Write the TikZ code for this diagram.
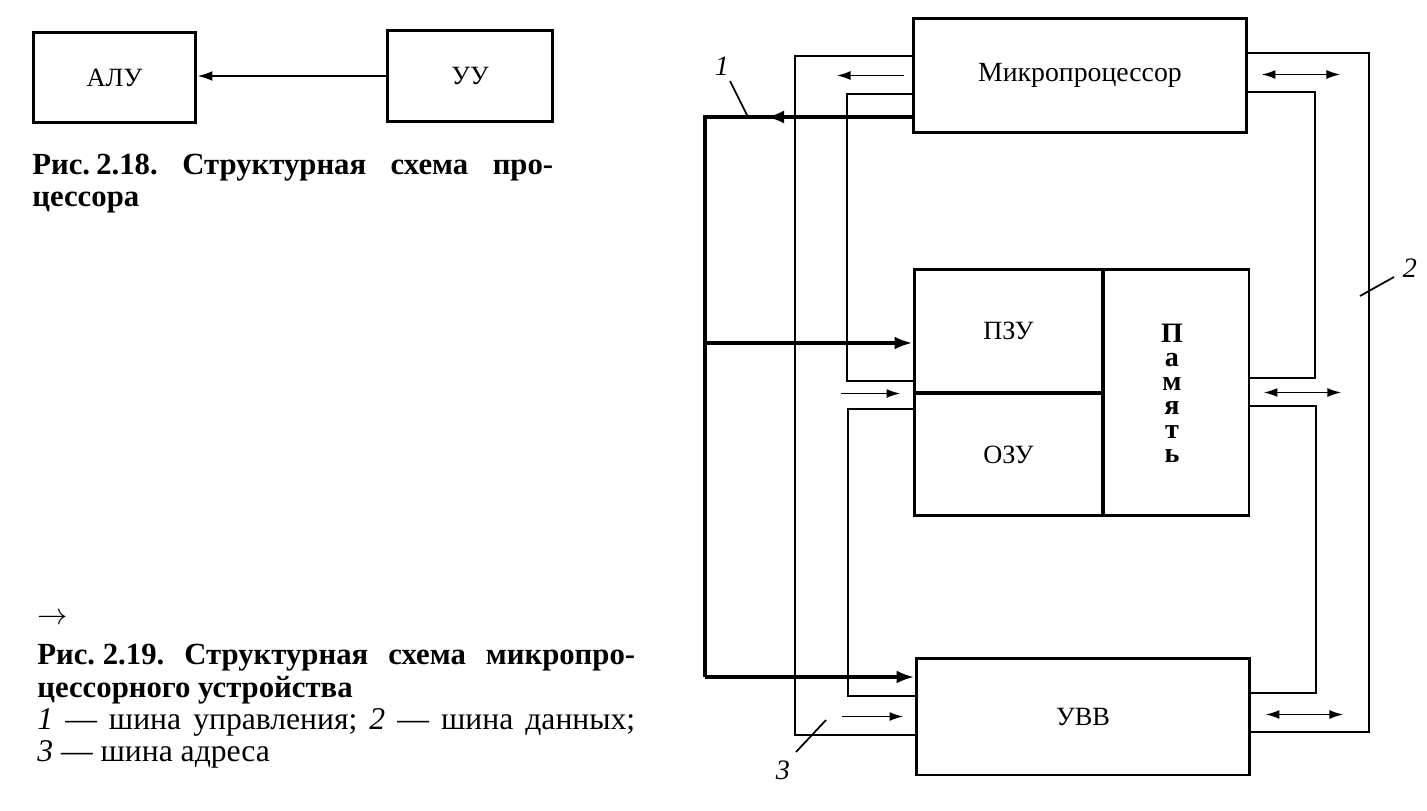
\documentclass[tikz,border=0pt]{standalone}
\usepackage{fontspec}
\setmainfont{Liberation Serif}
\frenchspacing
\usetikzlibrary{arrows.meta,calc}
\tikzset{
  box/.style={draw, line width=1.7pt, inner sep=0pt, align=center, font=\fontsize{15}{18}\selectfont},
  memLetter/.style={inner sep=0pt, anchor=base, font=\fontsize{16}{18}\selectfont\bfseries},
  capText/.style={inner sep=0pt, font=\fontsize{17.5}{21}\selectfont\bfseries},
  legText/.style={inner sep=0pt, font=\fontsize{18}{21}\selectfont},
  numLabel/.style={inner sep=1pt, font=\fontsize{16}{19}\selectfont\itshape},
  arrow/.style={-{Latex[length=0.3cm,width=0.2cm]}, line width=1.1pt},
  busLine/.style={line width=1pt},
  ctrlBus/.style={line width=2.4pt},
  ctrlArrow/.style={-{Latex[length=0.36cm,width=0.26cm]}, line width=2.4pt},
  busArrow/.style={-{Latex[length=0.28cm,width=0.18cm]}, line width=1.1pt},
  dataArrow/.style={{Latex[length=0.28cm,width=0.18cm]}-{Latex[length=0.28cm,width=0.18cm]}, line width=1.1pt},
  leader/.style={line width=1pt}
}
\begin{document}
\begin{tikzpicture}[x=0.02cm, y=-0.02cm]
\useasboundingbox (0,0) rectangle (1427,811);

% Рис. 2.18
\node[box, minimum width=3.26cm, minimum height=1.82cm] (alu) at (114.5,77.5) {АЛУ};
\node[box, minimum width=3.32cm, minimum height=1.84cm] (uu) at (470,76) {УУ};
\draw[arrow] (uu.west) -- (uu.west -| alu.east);

\node[capText, anchor=base west] (cap18a) at (32,174) {\makebox[10.42cm][s]{Рис.\hspace{0.2em}2.18. Структурная схема про-}};
\node[capText, anchor=base west] (cap18b) at (32,206) {цессора};

% Рис. 2.19 (подпись)
\node[legText, anchor=west] (capArrow) at (37,619) {$\rightarrow$};
\node[capText, anchor=base west] (cap19a) at (37,664) {\makebox[11.96cm][s]{Рис.\hspace{0.25em}2.19. Структурная схема микропро-}};
\node[capText, anchor=base west] (cap19b) at (37,697) {цессорного устройства};
\node[legText, anchor=base west] (leg1) at (37,729) {\makebox[11.96cm][s]{\textit{1} — шина управления; \textit{2} — шина данных;}};
\node[legText, anchor=base west] (leg2) at (37,761) {\textit{3} — шина адреса};

% блоки
\node[box, minimum width=6.68cm, minimum height=2.30cm, font=\fontsize{15.8}{18}\selectfont] (mp) at (1080,75.5) {Микропроцессор};
\node[box, minimum width=3.78cm, minimum height=2.48cm] (pzu) at (1008.5,331) {ПЗУ};
\node[box, minimum width=3.78cm, minimum height=2.46cm] (ozu) at (1008.5,454.5) {ОЗУ};
\node[box, minimum width=2.92cm, minimum height=4.94cm] (mem) at (1176,392.5) {};
\foreach \ch [count=\i from 0] in {П,а,м,я,т,ь}
  \node[memLetter] (memL\i) at (1172,342+24*\i) {\ch};
\node[box, minimum width=6.68cm, minimum height=2.34cm] (uvv) at (1083,716.5) {УВВ};

% шина управления (1)
\draw[ctrlBus] (mp.west |- 0,117) -| (705,677);
\draw[ctrlArrow] (705,677) -- (uvv.west |- 0,677);
\draw[ctrlArrow] (705,343) -- (pzu.west |- 0,343);
\draw[ctrlArrow] (800,117) -- (766,117);

% шина адреса (3)
\draw[busLine] (mp.west |- 0,56) -| (795,735) -- (uvv.west |- 0,735);
\draw[busLine] (mp.west |- 0,94) -| (847,381) -- (pzu.west |- 0,381);
\draw[busLine] (ozu.west |- 0,409) -| (848,696) -- (uvv.west |- 0,696);
\draw[busArrow] ($(mp.west)+(-8,0)$) -- ++(-67,0);
\draw[busArrow] ($(ozu.north west)+(-72,2)$) -- ++(60,0);
\draw[busArrow] ($(uvv.west)+(-73,0)$) -- ++(62,0);

% шина данных (2)
\draw[busLine] (mp.east |- 0,53) -| (1369,732) -- (uvv.east |- 0,732);
\draw[busLine] (mp.east |- 0,92) -| (1315,378) -- (mem.east |- 0,378);
\draw[busLine] (mem.east |- 0,406) -| (1316,693) -- (uvv.east |- 0,693);
\draw[dataArrow] ($(mp.east)+(13,-1)$) -- ++(79,0);
\draw[dataArrow] ($(mem.east)+(13,0)$) -- ++(78,0);
\draw[dataArrow] ($(uvv.east)+(14,-2)$) -- ++(78,0);

% номера шин
\coordinate (b1) at (748,117);
\coordinate (b2) at (1360,296);
\coordinate (b3) at (826,720);
\node[numLabel] (n1) at (722,66) {1};
\node[numLabel] (n2) at (1410,268) {2};
\node[numLabel] (n3) at (783,770) {3};
\draw[leader] ($(n1)+(8,15)$) -- (b1);
\draw[leader] ($(n2)+(-16,9)$) -- (b2);
\draw[leader] ($(n3)+(13,-18)$) -- (b3);
\end{tikzpicture}
\end{document}
